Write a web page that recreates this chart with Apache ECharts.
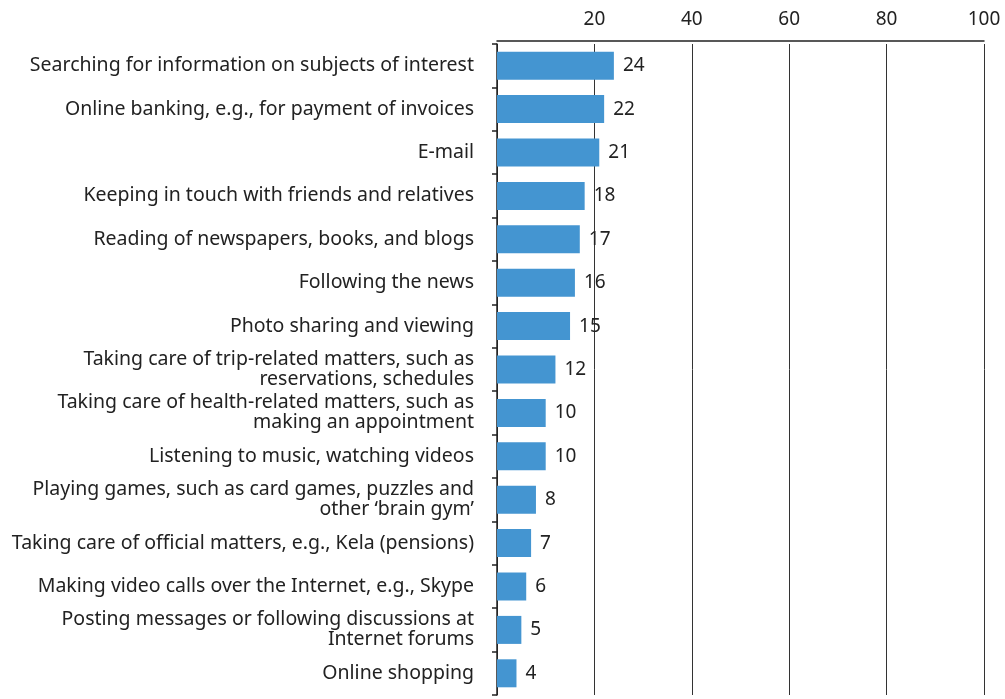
<!DOCTYPE html>
<html>
<head>
<meta charset="utf-8">
<style>
  html, body { margin: 0; padding: 0; background: #fff; }
  #chart { width: 1005px; height: 699px; }
</style>
<script src="https://cdn.jsdelivr.net/npm/echarts@6/dist/echarts.min.js"></script>
</head>
<body>
<div id="chart"></div>
<script>
// Internet activities, share of respondents (%)
const categories = [
  'Searching for information on subjects of interest',
  'Online banking, e.g., for payment of invoices',
  'E-mail',
  'Keeping in touch with friends and relatives',
  'Reading of newspapers, books, and blogs',
  'Following the news',
  'Photo sharing and viewing',
  'Taking care of trip-related matters, such as\nreservations, schedules',
  'Taking care of health-related matters, such as\nmaking an appointment',
  'Listening to music, watching videos',
  'Playing games, such as card games, puzzles and\nother \u2018brain gym\u2019',
  'Taking care of official matters, e.g., Kela (pensions)',
  'Making video calls over the Internet, e.g., Skype',
  'Posting messages or following discussions at\nInternet forums',
  'Online shopping'
];
const values = [24, 22, 21, 18, 17, 16, 15, 12, 10, 10, 8, 7, 6, 5, 4];
const xTicks = [0, 20, 40, 60, 80, 100];

const FONT = 'Noto Sans';
const chart = echarts.init(document.getElementById('chart'), null, { renderer: 'canvas' });

chart.setOption({
  animation: false,
  grid: { left: 497, right: 21, top: 44, bottom: 4, containLabel: false },
  xAxis: {
    type: 'value',
    position: 'top',
    offset: 3,
    min: xTicks[0],
    max: xTicks[xTicks.length - 1],
    interval: xTicks[1] - xTicks[0],
    axisLine: { show: true, lineStyle: { color: '#222', width: 1.5 } },
    axisTick: { show: false },
    axisLabel: {
      showMinLabel: false,
      margin: 12,
      color: '#222',
      fontFamily: FONT,
      fontSize: 19
    },
    splitLine: { show: true, lineStyle: { color: '#333', width: 1 } }
  },
  yAxis: {
    type: 'category',
    inverse: true,
    data: categories,
    axisLine: { show: true, lineStyle: { color: '#222', width: 1.5 } },
    axisTick: { show: true, length: 5, lineStyle: { color: '#222', width: 1.5 } },
    axisLabel: {
      margin: 23,
      color: '#222',
      fontFamily: FONT,
      fontSize: 19.5,
      lineHeight: 20,
      align: 'right'
    }
  },
  series: [{
    type: 'bar',
    data: values,
    barWidth: 28,
    itemStyle: { color: '#4495d1' },
    label: {
      show: true,
      position: 'right',
      distance: 9,
      color: '#222',
      fontFamily: FONT,
      fontSize: 19
    }
  }]
});
</script>
</body>
</html>
